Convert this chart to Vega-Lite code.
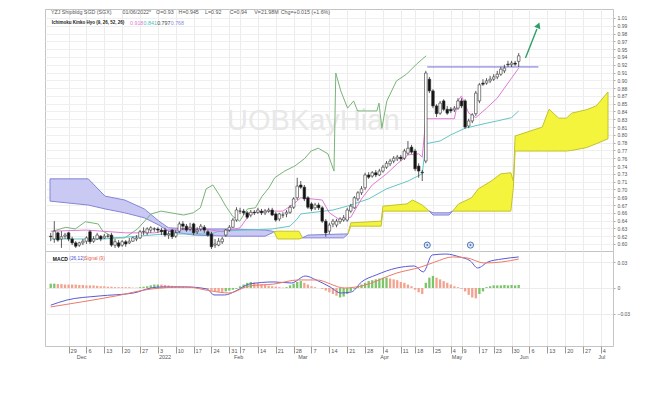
{
"$schema":"https://vega.github.io/schema/vega-lite/v6.json",
"padding":{"left":44,"top":8,"right":0,"bottom":0},
"background":"white",
"bounds":"flush",
"spacing":0,
"resolve":{"scale":{"color":"independent","fill":"independent","stroke":"independent"}},
"config":{"view":{"stroke":"#c4c4c4","strokeWidth":1},"font":"Liberation Sans","axis":{"labelFont":"Liberation Sans"},"text":{"font":"Liberation Sans"}},
"datasets":{
"candles":[
{"d":0,"o":0.616,"h":0.622,"l":0.607,"c":0.615},{"d":1,"o":0.611,"h":0.643,"l":0.604,"c":0.625},{"d":2,"o":0.622,"h":0.624,"l":0.606,"c":0.609},{"d":3,"o":0.611,"h":0.625,"l":0.595,"c":0.615},{"d":4,"o":0.616,"h":0.622,"l":0.611,"c":0.618},{"d":5,"o":0.622,"h":0.624,"l":0.607,"c":0.611},{"d":6,"o":0.611,"h":0.615,"l":0.600,"c":0.604},{"d":7,"o":0.604,"h":0.607,"l":0.595,"c":0.598},{"d":8,"o":0.600,"h":0.606,"l":0.597,"c":0.604},{"d":9,"o":0.604,"h":0.611,"l":0.600,"c":0.607},
{"d":10,"o":0.607,"h":0.616,"l":0.602,"c":0.613},{"d":11,"o":0.624,"h":0.627,"l":0.602,"c":0.606},{"d":12,"o":0.607,"h":0.616,"l":0.604,"c":0.611},{"d":13,"o":0.611,"h":0.622,"l":0.609,"c":0.618},{"d":14,"o":0.616,"h":0.618,"l":0.607,"c":0.611},{"d":15,"o":0.613,"h":0.620,"l":0.611,"c":0.616},{"d":16,"o":0.616,"h":0.620,"l":0.613,"c":0.616},{"d":17,"o":0.618,"h":0.622,"l":0.597,"c":0.600},{"d":18,"o":0.600,"h":0.611,"l":0.595,"c":0.606},{"d":19,"o":0.604,"h":0.609,"l":0.595,"c":0.598},
{"d":20,"o":0.600,"h":0.609,"l":0.597,"c":0.606},{"d":21,"o":0.606,"h":0.609,"l":0.597,"c":0.602},{"d":22,"o":0.604,"h":0.613,"l":0.602,"c":0.607},{"d":23,"o":0.607,"h":0.615,"l":0.606,"c":0.613},{"d":24,"o":0.611,"h":0.618,"l":0.607,"c":0.613},{"d":25,"o":0.613,"h":0.627,"l":0.611,"c":0.624},{"d":26,"o":0.624,"h":0.632,"l":0.618,"c":0.625},{"d":27,"o":0.622,"h":0.632,"l":0.618,"c":0.629},{"d":28,"o":0.627,"h":0.634,"l":0.622,"c":0.631},{"d":29,"o":0.629,"h":0.632,"l":0.624,"c":0.629},
{"d":30,"o":0.629,"h":0.632,"l":0.622,"c":0.627},{"d":31,"o":0.627,"h":0.631,"l":0.618,"c":0.624},{"d":32,"o":0.627,"h":0.631,"l":0.615,"c":0.618},{"d":33,"o":0.618,"h":0.625,"l":0.611,"c":0.620},{"d":34,"o":0.627,"h":0.629,"l":0.611,"c":0.615},{"d":35,"o":0.616,"h":0.627,"l":0.613,"c":0.622},{"d":36,"o":0.625,"h":0.642,"l":0.622,"c":0.638},{"d":37,"o":0.638,"h":0.643,"l":0.627,"c":0.634},{"d":38,"o":0.634,"h":0.638,"l":0.624,"c":0.627},{"d":39,"o":0.629,"h":0.640,"l":0.625,"c":0.632},
{"d":40,"o":0.638,"h":0.640,"l":0.618,"c":0.622},{"d":41,"o":0.624,"h":0.632,"l":0.620,"c":0.627},{"d":42,"o":0.629,"h":0.638,"l":0.625,"c":0.634},{"d":43,"o":0.632,"h":0.636,"l":0.622,"c":0.627},{"d":44,"o":0.624,"h":0.627,"l":0.615,"c":0.618},{"d":45,"o":0.620,"h":0.624,"l":0.593,"c":0.597},{"d":46,"o":0.600,"h":0.611,"l":0.595,"c":0.602},{"d":47,"o":0.600,"h":0.613,"l":0.598,"c":0.607},{"d":48,"o":0.606,"h":0.615,"l":0.602,"c":0.611},{"d":49,"o":0.618,"h":0.629,"l":0.615,"c":0.627},
{"d":50,"o":0.627,"h":0.636,"l":0.624,"c":0.632},{"d":51,"o":0.632,"h":0.649,"l":0.631,"c":0.645},{"d":52,"o":0.645,"h":0.668,"l":0.642,"c":0.663},{"d":53,"o":0.661,"h":0.667,"l":0.656,"c":0.661},{"d":54,"o":0.661,"h":0.665,"l":0.654,"c":0.658},{"d":55,"o":0.658,"h":0.661,"l":0.647,"c":0.650},{"d":56,"o":0.654,"h":0.663,"l":0.650,"c":0.659},{"d":57,"o":0.659,"h":0.663,"l":0.654,"c":0.658},{"d":58,"o":0.659,"h":0.667,"l":0.656,"c":0.663},{"d":59,"o":0.661,"h":0.665,"l":0.654,"c":0.658},
{"d":60,"o":0.658,"h":0.665,"l":0.654,"c":0.661},{"d":61,"o":0.661,"h":0.667,"l":0.658,"c":0.663},{"d":62,"o":0.663,"h":0.667,"l":0.652,"c":0.654},{"d":63,"o":0.656,"h":0.659,"l":0.642,"c":0.645},{"d":64,"o":0.647,"h":0.658,"l":0.643,"c":0.656},{"d":65,"o":0.654,"h":0.659,"l":0.649,"c":0.654},{"d":66,"o":0.656,"h":0.663,"l":0.650,"c":0.659},{"d":67,"o":0.659,"h":0.672,"l":0.656,"c":0.668},{"d":68,"o":0.668,"h":0.686,"l":0.665,"c":0.683},{"d":69,"o":0.685,"h":0.721,"l":0.681,"c":0.706},
{"d":70,"o":0.708,"h":0.715,"l":0.701,"c":0.704},{"d":71,"o":0.704,"h":0.708,"l":0.679,"c":0.683},{"d":72,"o":0.685,"h":0.688,"l":0.665,"c":0.668},{"d":73,"o":0.674,"h":0.677,"l":0.661,"c":0.665},{"d":74,"o":0.667,"h":0.676,"l":0.663,"c":0.672},{"d":75,"o":0.672,"h":0.676,"l":0.663,"c":0.667},{"d":76,"o":0.667,"h":0.670,"l":0.640,"c":0.643},{"d":77,"o":0.643,"h":0.647,"l":0.615,"c":0.622},{"d":78,"o":0.625,"h":0.640,"l":0.620,"c":0.636},{"d":79,"o":0.638,"h":0.647,"l":0.632,"c":0.643},
{"d":80,"o":0.636,"h":0.647,"l":0.632,"c":0.643},{"d":81,"o":0.642,"h":0.650,"l":0.638,"c":0.647},{"d":82,"o":0.645,"h":0.654,"l":0.642,"c":0.649},{"d":83,"o":0.645,"h":0.667,"l":0.642,"c":0.663},{"d":84,"o":0.661,"h":0.674,"l":0.658,"c":0.670},{"d":85,"o":0.667,"h":0.688,"l":0.665,"c":0.685},{"d":86,"o":0.683,"h":0.697,"l":0.679,"c":0.694},{"d":87,"o":0.694,"h":0.706,"l":0.690,"c":0.701},{"d":88,"o":0.703,"h":0.730,"l":0.699,"c":0.726},{"d":89,"o":0.726,"h":0.731,"l":0.719,"c":0.722},
{"d":90,"o":0.724,"h":0.733,"l":0.721,"c":0.730},{"d":91,"o":0.730,"h":0.735,"l":0.722,"c":0.726},{"d":92,"o":0.726,"h":0.737,"l":0.724,"c":0.733},{"d":93,"o":0.733,"h":0.744,"l":0.730,"c":0.740},{"d":94,"o":0.740,"h":0.751,"l":0.737,"c":0.747},{"d":95,"o":0.746,"h":0.755,"l":0.742,"c":0.751},{"d":96,"o":0.751,"h":0.760,"l":0.747,"c":0.756},{"d":97,"o":0.755,"h":0.762,"l":0.751,"c":0.758},{"d":98,"o":0.758,"h":0.762,"l":0.751,"c":0.755},{"d":99,"o":0.756,"h":0.773,"l":0.753,"c":0.769},
{"d":100,"o":0.765,"h":0.787,"l":0.762,"c":0.774},{"d":101,"o":0.776,"h":0.780,"l":0.764,"c":0.767},{"d":102,"o":0.769,"h":0.773,"l":0.733,"c":0.737},{"d":103,"o":0.742,"h":0.747,"l":0.721,"c":0.733},{"d":104,"o":0.731,"h":0.735,"l":0.715,"c":0.730},{"d":105,"o":0.751,"h":0.913,"l":0.747,"c":0.909},{"d":106,"o":0.898,"h":0.902,"l":0.873,"c":0.877},{"d":107,"o":0.877,"h":0.880,"l":0.846,"c":0.850},{"d":108,"o":0.850,"h":0.853,"l":0.830,"c":0.836},{"d":109,"o":0.837,"h":0.859,"l":0.834,"c":0.855},
{"d":110,"o":0.859,"h":0.862,"l":0.841,"c":0.844},{"d":111,"o":0.844,"h":0.850,"l":0.834,"c":0.837},{"d":112,"o":0.844,"h":0.848,"l":0.837,"c":0.841},{"d":113,"o":0.843,"h":0.850,"l":0.839,"c":0.846},{"d":114,"o":0.846,"h":0.864,"l":0.843,"c":0.859},{"d":115,"o":0.859,"h":0.864,"l":0.846,"c":0.850},{"d":116,"o":0.859,"h":0.862,"l":0.809,"c":0.812},{"d":117,"o":0.814,"h":0.827,"l":0.810,"c":0.823},{"d":118,"o":0.823,"h":0.837,"l":0.819,"c":0.834},{"d":119,"o":0.836,"h":0.877,"l":0.832,"c":0.873},
{"d":120,"o":0.859,"h":0.891,"l":0.855,"c":0.888},{"d":121,"o":0.891,"h":0.898,"l":0.886,"c":0.889},{"d":122,"o":0.891,"h":0.900,"l":0.888,"c":0.895},{"d":123,"o":0.895,"h":0.904,"l":0.891,"c":0.898},{"d":124,"o":0.898,"h":0.907,"l":0.895,"c":0.902},{"d":125,"o":0.902,"h":0.913,"l":0.898,"c":0.907},{"d":126,"o":0.907,"h":0.920,"l":0.904,"c":0.916},{"d":127,"o":0.913,"h":0.924,"l":0.909,"c":0.918},{"d":128,"o":0.925,"h":0.931,"l":0.920,"c":0.924},{"d":129,"o":0.924,"h":0.931,"l":0.920,"c":0.927},
{"d":130,"o":0.927,"h":0.931,"l":0.922,"c":0.925},{"d":131,"o":0.93,"h":0.945,"l":0.92,"c":0.94}
],
"tenkan":[
{"d":0,"v":0.625},{"d":10,"v":0.627},{"d":21,"v":0.622},{"d":29,"v":0.622},{"d":33,"v":0.627},{"d":43,"v":0.629},{"d":48,"v":0.624},{"d":53,"v":0.631},{"d":56,"v":0.658},{"d":60,"v":0.661},{"d":65,"v":0.661},{"d":68,"v":0.674},{"d":70,"v":0.685},{"d":76,"v":0.681},{"d":78,"v":0.658},{"d":81,"v":0.645},{"d":84,"v":0.650},{"d":87,"v":0.683},{"d":90,"v":0.708},{"d":94,"v":0.728},{"d":97,"v":0.746},{"d":100,"v":0.762},{"d":103,"v":0.764},{"d":104,"v":0.758},{"d":105,"v":0.827},{"d":113,"v":0.827},{"d":114,"v":0.859},{"d":115,"v":0.868},{"d":117,"v":0.837},{"d":119,"v":0.829},{"d":122,"v":0.846},{"d":125,"v":0.864},{"d":127,"v":0.882},{"d":129,"v":0.900},{"d":131,"v":0.918}
],
"kijun":[
{"d":0,"v":0.611},{"d":15,"v":0.611},{"d":32,"v":0.620},{"d":45,"v":0.620},{"d":47,"v":0.625},{"d":62,"v":0.629},{"d":67,"v":0.634},{"d":69,"v":0.647},{"d":70,"v":0.656},{"d":79,"v":0.663},{"d":83,"v":0.670},{"d":89,"v":0.683},{"d":94,"v":0.701},{"d":100,"v":0.715},{"d":104,"v":0.728},{"d":105,"v":0.782},{"d":109,"v":0.787},{"d":112,"v":0.798},{"d":116,"v":0.810},{"d":122,"v":0.819},{"d":125,"v":0.823},{"d":129,"v":0.829},{"d":131,"v":0.841}
],
"chikou":[
{"d":0.6,"v":0.625},{"d":4.2,"v":0.632},{"d":6.9,"v":0.629},{"d":9.7,"v":0.642},{"d":13.3,"v":0.638},{"d":14.6,"v":0.625},{"d":17.9,"v":0.613},{"d":20.7,"v":0.613},{"d":24.3,"v":0.629},{"d":28.1,"v":0.656},{"d":30.9,"v":0.661},{"d":33.6,"v":0.658},{"d":37.2,"v":0.654},{"d":39.9,"v":0.658},{"d":41.9,"v":0.667},{"d":43.5,"v":0.701},{"d":45.4,"v":0.708},{"d":47.4,"v":0.688},{"d":49.0,"v":0.670},{"d":50.9,"v":0.652},{"d":52.9,"v":0.643},{"d":55.1,"v":0.665},{"d":57.3,"v":0.667},{"d":59.2,"v":0.688},{"d":61.1,"v":0.703},{"d":62.7,"v":0.721},{"d":65.5,"v":0.733},{"d":68.3,"v":0.742},{"d":71.0,"v":0.755},{"d":72.9,"v":0.769},{"d":74.9,"v":0.774},{"d":77.6,"v":0.764},{"d":79.3,"v":0.733},{"d":79.8,"v":0.909},{"d":81.2,"v":0.877},{"d":83.1,"v":0.846},{"d":84.8,"v":0.859},{"d":85.9,"v":0.841},{"d":88.6,"v":0.841},{"d":91.3,"v":0.841},{"d":91.9,"v":0.855},{"d":92.7,"v":0.810},{"d":94.1,"v":0.859},{"d":96.8,"v":0.895},{"d":99.6,"v":0.907},{"d":102.4,"v":0.925},{"d":105.1,"v":0.940}
],
"cloud":[
{"seg":1,"kind":"bear","d":-0.2,"a":0.679,"b":0.719},{"seg":1,"kind":"bear","d":10.5,"a":0.672,"b":0.719},{"seg":1,"kind":"bear","d":15.2,"a":0.665,"b":0.688},{"seg":1,"kind":"bear","d":20.7,"a":0.658,"b":0.681},{"seg":1,"kind":"bear","d":26.2,"a":0.649,"b":0.665},{"seg":1,"kind":"bear","d":30.3,"a":0.636,"b":0.643},{"seg":1,"kind":"bear","d":33,"a":0.625,"b":0.631},{"seg":1,"kind":"bear","d":40,"a":0.618,"b":0.629},{"seg":1,"kind":"bear","d":50,"a":0.616,"b":0.629},{"seg":1,"kind":"bear","d":60,"a":0.616,"b":0.627},{"seg":1,"kind":"bear","d":62,"a":0.622,"b":0.625},{"seg":1,"kind":"bear","d":62.5,"a":0.624,"b":0.624},
{"seg":2,"kind":"bull","d":62.5,"a":0.624,"b":0.624},{"seg":2,"kind":"bull","d":63.5,"a":0.625,"b":0.611},{"seg":2,"kind":"bull","d":69.5,"a":0.625,"b":0.611},{"seg":2,"kind":"bull","d":70.5,"a":0.613,"b":0.613},
{"seg":3,"kind":"bear","d":70.5,"a":0.613,"b":0.613},{"seg":3,"kind":"bear","d":72,"a":0.613,"b":0.618},{"seg":3,"kind":"bear","d":82,"a":0.613,"b":0.620},{"seg":3,"kind":"bear","d":83.2,"a":0.620,"b":0.620},
{"seg":4,"kind":"bull","d":83.2,"a":0.620,"b":0.620},{"seg":4,"kind":"bull","d":84,"a":0.640,"b":0.634},{"seg":4,"kind":"bull","d":92.5,"a":0.643,"b":0.634},{"seg":4,"kind":"bull","d":93,"a":0.670,"b":0.661},{"seg":4,"kind":"bull","d":99.7,"a":0.674,"b":0.661},{"seg":4,"kind":"bull","d":101.3,"a":0.681,"b":0.661},{"seg":4,"kind":"bull","d":104,"a":0.672,"b":0.661},{"seg":4,"kind":"bull","d":106,"a":0.661,"b":0.661},
{"seg":5,"kind":"bear","d":106,"a":0.661,"b":0.661},{"seg":5,"kind":"bear","d":107,"a":0.654,"b":0.658},{"seg":5,"kind":"bear","d":111.5,"a":0.654,"b":0.658},{"seg":5,"kind":"bear","d":112.5,"a":0.661,"b":0.661},
{"seg":6,"kind":"bull","d":112.5,"a":0.661,"b":0.661},{"seg":6,"kind":"bull","d":114.2,"a":0.674,"b":0.661},{"seg":6,"kind":"bull","d":117.8,"a":0.685,"b":0.661},{"seg":6,"kind":"bull","d":119.7,"a":0.701,"b":0.661},{"seg":6,"kind":"bull","d":123.3,"a":0.715,"b":0.661},{"seg":6,"kind":"bull","d":126,"a":0.728,"b":0.661},{"seg":6,"kind":"bull","d":128.8,"a":0.730,"b":0.661},{"seg":6,"kind":"bull","d":129.5,"a":0.715,"b":0.703},{"seg":6,"kind":"bull","d":130,"a":0.796,"b":0.769},{"seg":6,"kind":"bull","d":137.6,"a":0.812,"b":0.769},{"seg":6,"kind":"bull","d":139.5,"a":0.844,"b":0.769},{"seg":6,"kind":"bull","d":142.2,"a":0.828,"b":0.769},{"seg":6,"kind":"bull","d":144.4,"a":0.828,"b":0.769},{"seg":6,"kind":"bull","d":145.8,"a":0.837,"b":0.770},{"seg":6,"kind":"bull","d":149.9,"a":0.843,"b":0.775},{"seg":6,"kind":"bull","d":152.7,"a":0.850,"b":0.782},{"seg":6,"kind":"bull","d":156,"a":0.875,"b":0.791}
],
"macd":[
{"d":0,"v":-0.020},{"d":4.5,"v":-0.014},{"d":13.5,"v":-0.0093},{"d":23.2,"v":-0.0058},{"d":28.1,"v":0.0},{"d":31.1,"v":0.0012},{"d":38,"v":0.0012},{"d":43.8,"v":-0.0012},{"d":45.7,"v":-0.0081},{"d":48.7,"v":-0.0081},{"d":51.8,"v":-0.0035},{"d":55.6,"v":0.0046},{"d":62.5,"v":0.007},{"d":67.4,"v":0.0058},{"d":71.3,"v":0.0139},{"d":74.3,"v":0.0093},{"d":78.2,"v":0.0012},{"d":81.2,"v":-0.0058},{"d":84.2,"v":-0.0046},{"d":87,"v":0.007},{"d":91.1,"v":0.0151},{"d":96.9,"v":0.0232},{"d":101.8,"v":0.0255},{"d":104.3,"v":0.0186},{"d":106.8,"v":0.0383},{"d":110.6,"v":0.0394},{"d":114.5,"v":0.036},{"d":117.5,"v":0.0313},{"d":119.5,"v":0.0232},{"d":122.4,"v":0.0302},{"d":126.3,"v":0.0336},{"d":131,"v":0.036}
],
"signal":[
{"d":0,"v":-0.022},{"d":8.6,"v":-0.0162},{"d":18.2,"v":-0.0093},{"d":28.1,"v":-0.0012},{"d":38,"v":0.0012},{"d":44.9,"v":-0.0035},{"d":49.8,"v":-0.0058},{"d":55.6,"v":0.0023},{"d":62.5,"v":0.0046},{"d":69.3,"v":0.0093},{"d":74.3,"v":0.0093},{"d":82.3,"v":0.0},{"d":87,"v":0.0023},{"d":96.9,"v":0.0174},{"d":103.7,"v":0.0244},{"d":107.6,"v":0.0302},{"d":112.5,"v":0.036},{"d":116.6,"v":0.0348},{"d":121.3,"v":0.029},{"d":126.3,"v":0.0302},{"d":131,"v":0.0336}
],
"hist":[
{"d":0,"v":0.005,"dir":"up"},{"d":1,"v":0.005,"dir":"up"},{"d":2,"v":0.0045,"dir":"dn"},{"d":3,"v":0.0045,"dir":"dn"},{"d":4,"v":0.004,"dir":"dn"},{"d":5,"v":0.004,"dir":"dn"},{"d":6,"v":0.004,"dir":"dn"},{"d":7,"v":0.004,"dir":"dn"},{"d":8,"v":0.0035,"dir":"dn"},{"d":9,"v":0.0035,"dir":"dn"},
{"d":10,"v":0.003,"dir":"dn"},{"d":11,"v":0.003,"dir":"dn"},{"d":12,"v":0.003,"dir":"dn"},{"d":13,"v":0.0025,"dir":"dn"},{"d":14,"v":0.002,"dir":"dn"},{"d":15,"v":0.002,"dir":"dn"},{"d":16,"v":0.0015,"dir":"dn"},{"d":17,"v":0.0015,"dir":"dn"},{"d":18,"v":0.001,"dir":"dn"},{"d":19,"v":0.001,"dir":"dn"},
{"d":20,"v":0.001,"dir":"dn"},{"d":21,"v":0.001,"dir":"dn"},{"d":22,"v":0.001,"dir":"dn"},{"d":23,"v":0.0005,"dir":"dn"},{"d":24,"v":0.0005,"dir":"dn"},{"d":25,"v":0.001,"dir":"up"},{"d":26,"v":0.0015,"dir":"up"},{"d":27,"v":0.002,"dir":"up"},{"d":28,"v":0.003,"dir":"up"},{"d":29,"v":0.004,"dir":"up"},
{"d":30,"v":0.004,"dir":"up"},{"d":31,"v":0.004,"dir":"dn"},{"d":32,"v":0.0035,"dir":"dn"},{"d":33,"v":0.003,"dir":"dn"},{"d":34,"v":0.0025,"dir":"dn"},{"d":35,"v":0.002,"dir":"dn"},{"d":36,"v":0.002,"dir":"dn"},{"d":37,"v":0.0015,"dir":"dn"},{"d":38,"v":0.001,"dir":"dn"},{"d":39,"v":0.001,"dir":"dn"},
{"d":40,"v":0.0005,"dir":"dn"},{"d":41,"v":0.0005,"dir":"dn"},{"d":42,"v":0.0,"dir":"dn"},{"d":43,"v":-0.0005,"dir":"dn"},{"d":44,"v":-0.001,"dir":"dn"},{"d":45,"v":-0.003,"dir":"dn"},{"d":46,"v":-0.004,"dir":"dn"},{"d":47,"v":-0.0045,"dir":"dn"},{"d":48,"v":-0.0045,"dir":"dn"},{"d":49,"v":-0.004,"dir":"up"},
{"d":50,"v":-0.003,"dir":"up"},{"d":51,"v":-0.002,"dir":"up"},{"d":52,"v":-0.001,"dir":"up"},{"d":53,"v":0.002,"dir":"up"},{"d":54,"v":0.004,"dir":"up"},{"d":55,"v":0.006,"dir":"up"},{"d":56,"v":0.007,"dir":"up"},{"d":57,"v":0.0065,"dir":"dn"},{"d":58,"v":0.0055,"dir":"dn"},{"d":59,"v":0.0045,"dir":"dn"},
{"d":60,"v":0.0035,"dir":"dn"},{"d":61,"v":0.0025,"dir":"dn"},{"d":62,"v":0.002,"dir":"dn"},{"d":63,"v":0.0015,"dir":"dn"},{"d":64,"v":0.001,"dir":"dn"},{"d":65,"v":0.0005,"dir":"dn"},{"d":66,"v":0.001,"dir":"up"},{"d":67,"v":0.003,"dir":"up"},{"d":68,"v":0.005,"dir":"up"},{"d":69,"v":0.007,"dir":"up"},
{"d":70,"v":0.008,"dir":"up"},{"d":71,"v":0.006,"dir":"dn"},{"d":72,"v":0.004,"dir":"dn"},{"d":73,"v":0.002,"dir":"dn"},{"d":74,"v":0.001,"dir":"dn"},{"d":75,"v":0.0,"dir":"dn"},{"d":76,"v":-0.001,"dir":"dn"},{"d":77,"v":-0.003,"dir":"dn"},{"d":78,"v":-0.005,"dir":"dn"},{"d":79,"v":-0.007,"dir":"dn"},
{"d":80,"v":-0.009,"dir":"dn"},{"d":81,"v":-0.011,"dir":"up"},{"d":82,"v":-0.010,"dir":"up"},{"d":83,"v":-0.007,"dir":"up"},{"d":84,"v":-0.004,"dir":"up"},{"d":85,"v":-0.001,"dir":"up"},{"d":86,"v":0.002,"dir":"up"},{"d":87,"v":0.004,"dir":"up"},{"d":88,"v":0.006,"dir":"up"},{"d":89,"v":0.008,"dir":"up"},
{"d":90,"v":0.009,"dir":"up"},{"d":91,"v":0.010,"dir":"up"},{"d":92,"v":0.011,"dir":"up"},{"d":93,"v":0.012,"dir":"up"},{"d":94,"v":0.012,"dir":"up"},{"d":95,"v":0.011,"dir":"dn"},{"d":96,"v":0.010,"dir":"dn"},{"d":97,"v":0.009,"dir":"dn"},{"d":98,"v":0.007,"dir":"dn"},{"d":99,"v":0.006,"dir":"dn"},
{"d":100,"v":0.004,"dir":"dn"},{"d":101,"v":0.002,"dir":"dn"},{"d":102,"v":-0.002,"dir":"dn"},{"d":103,"v":-0.005,"dir":"dn"},{"d":104,"v":-0.007,"dir":"dn"},{"d":105,"v":0.006,"dir":"up"},{"d":106,"v":0.012,"dir":"up"},{"d":107,"v":0.014,"dir":"up"},{"d":108,"v":0.012,"dir":"dn"},{"d":109,"v":0.010,"dir":"dn"},
{"d":110,"v":0.008,"dir":"dn"},{"d":111,"v":0.006,"dir":"dn"},{"d":112,"v":0.004,"dir":"dn"},{"d":113,"v":0.002,"dir":"dn"},{"d":114,"v":0.001,"dir":"dn"},{"d":115,"v":-0.001,"dir":"dn"},{"d":116,"v":-0.004,"dir":"dn"},{"d":117,"v":-0.008,"dir":"dn"},{"d":118,"v":-0.011,"dir":"dn"},{"d":119,"v":-0.012,"dir":"dn"},
{"d":120,"v":-0.007,"dir":"up"},{"d":121,"v":-0.004,"dir":"up"},{"d":122,"v":0.001,"dir":"up"},{"d":123,"v":0.002,"dir":"up"},{"d":124,"v":0.003,"dir":"up"},{"d":125,"v":0.003,"dir":"up"},{"d":126,"v":0.003,"dir":"up"},{"d":127,"v":0.0035,"dir":"up"},{"d":128,"v":0.003,"dir":"up"},{"d":129,"v":0.0035,"dir":"up"},
{"d":130,"v":0.003,"dir":"up"},{"d":131,"v":0.0035,"dir":"up"}
],
"hdr":[
{"d":0.05,"p":1.0187,"t":"YZJ Shipbldg SGD (SGX)"},{"d":20.1,"p":1.0187,"t":"01/06/2022*"},{"d":29.5,"p":1.0187,"t":"O=0.93"},{"d":35.8,"p":1.0187,"t":"H=0.945"},{"d":43.2,"p":1.0187,"t":"L=0.92"},{"d":50.1,"p":1.0187,"t":"C=0.94"},{"d":57.0,"p":1.0187,"t":"V=21.98M"},{"d":64.4,"p":1.0187,"t":"Chg=+0.015 (+1.6%)"}
],
"months":[
{"d":7,"t":"Dec"},{"d":30,"t":"2022"},{"d":51,"t":"Feb"},{"d":69,"t":"Mar"},{"d":92,"t":"Apr"},{"d":112,"t":"May"},{"d":131,"t":"Jun"},{"d":153,"t":"Jul"}
]
},
"vconcat":[
{
"width":568,"height":242,
"layer":[
{"data":{"values":[{"d":73.5,"p":0.823,"t":"UOBKayHian"}]},
 "mark":{"type":"text","fontSize":29,"color":"#e8e8e8","align":"center","baseline":"middle"},
 "encoding":{
  "x":{"field":"d","type":"quantitative","title":null,"scale":{"domain":[-0.2,156],"nice":false,"zero":false},
   "axis":{"values":[5,10,15,20,25,30,35,40,45,50,53,58,63,68,73,78,83,88,93,98,102,107,112,115,120,124,129,134,139,144,149,154],"tickCount":60,"grid":true,"gridColor":"#ececec","labels":false,"ticks":false,"domain":false}},
  "y":{"field":"p","type":"quantitative","title":null,"scale":{"domain":[0.5894,1.0241],"nice":false,"zero":false},
   "axis":{"orient":"right","values":[1.008,0.994,0.98,0.966,0.952,0.938,0.924,0.91,0.896,0.882,0.868,0.854,0.84,0.826,0.812,0.798,0.784,0.77,0.756,0.742,0.728,0.714,0.7,0.686,0.672,0.658,0.644,0.63,0.616,0.602],"tickCount":60,"format":".2f","grid":true,"gridColor":"#efefef","labelFontSize":5,"labelColor":"#555555","tickSize":2,"tickColor":"#aaaaaa","domain":false,"labelPadding":2,"labelOverlap":false}},
  "text":{"field":"t"}}},
{"data":{"name":"cloud"},
 "mark":{"type":"area","clip":true,"strokeWidth":1,"opacity":1},
 "encoding":{
  "x":{"field":"d","type":"quantitative","title":null},
  "y":{"field":"a","type":"quantitative","title":null},
  "y2":{"field":"b"},
  "fill":{"condition":{"test":"datum.kind == 'bull'","value":"#f4f43c"},"value":"#c9c9f3"},
  "stroke":{"condition":{"test":"datum.kind == 'bull'","value":"#c2c232"},"value":"#8585d6"},
  "detail":{"field":"seg","type":"nominal"}}},
{"data":{"name":"chikou"},"mark":{"type":"line","color":"#78b478","strokeWidth":1,"clip":true},
 "encoding":{"x":{"field":"d","type":"quantitative","title":null},"y":{"field":"v","type":"quantitative","title":null}}},
{"data":{"name":"kijun"},"mark":{"type":"line","color":"#62c6c6","strokeWidth":1,"clip":true},
 "encoding":{"x":{"field":"d","type":"quantitative","title":null},"y":{"field":"v","type":"quantitative","title":null}}},
{"data":{"name":"tenkan"},"mark":{"type":"line","color":"#e07bd5","strokeWidth":1,"clip":true},
 "encoding":{"x":{"field":"d","type":"quantitative","title":null},"y":{"field":"v","type":"quantitative","title":null}}},
{"data":{"values":[{"d":105.4,"d2":136.5,"p":0.92}]},"mark":{"type":"rule","color":"#6e6ed8","strokeWidth":1},
 "encoding":{"x":{"field":"d","type":"quantitative","title":null},"x2":{"field":"d2"},"y":{"field":"p","type":"quantitative","title":null}}},
{"data":{"name":"candles"},"mark":{"type":"rule","color":"#333333","strokeWidth":0.8,"clip":true},
 "encoding":{"x":{"field":"d","type":"quantitative","title":null},"y":{"field":"l","type":"quantitative","title":null},"y2":{"field":"h"}}},
{"data":{"name":"candles"},"mark":{"type":"bar","size":2.6,"stroke":"#333333","strokeWidth":0.6,"clip":true},
 "encoding":{"x":{"field":"d","type":"quantitative","title":null},"y":{"field":"o","type":"quantitative","title":null},"y2":{"field":"c"},
  "fill":{"condition":{"test":"datum.c >= datum.o","value":"#ffffff"},"value":"#111111"}}},
{"data":{"values":[{"d":105.4,"p":0.6},{"d":117.5,"p":0.6}]},"mark":{"type":"point","shape":"circle","size":38,"filled":true,"fill":"#dfe8f6","stroke":"#4f77b8","strokeWidth":1,"opacity":1},
 "encoding":{"x":{"field":"d","type":"quantitative","title":null},"y":{"field":"p","type":"quantitative","title":null}}},
{"data":{"values":[{"d":105.4,"p":0.6},{"d":117.5,"p":0.6}]},"mark":{"type":"point","shape":"circle","size":4,"filled":true,"color":"#4f77b8","opacity":1},
 "encoding":{"x":{"field":"d","type":"quantitative","title":null},"y":{"field":"p","type":"quantitative","title":null}}},
{"data":{"values":[{"d":132.9,"p":0.936},{"d":136.1,"p":0.988}]},"mark":{"type":"line","color":"#2f9e68","strokeWidth":1.4},
 "encoding":{"x":{"field":"d","type":"quantitative","title":null},"y":{"field":"p","type":"quantitative","title":null}}},
{"data":{"values":[{"d":136.5,"p":0.995}]},"mark":{"type":"point","shape":"triangle-up","size":45,"filled":true,"color":"#2f9e68","angle":22,"opacity":1},
 "encoding":{"x":{"field":"d","type":"quantitative","title":null},"y":{"field":"p","type":"quantitative","title":null}}},
{"data":{"name":"hdr"},"mark":{"type":"text","fontSize":5.3,"align":"left","baseline":"middle","color":"#555555"},
 "encoding":{"x":{"field":"d","type":"quantitative","title":null},"y":{"field":"p","type":"quantitative","title":null},"text":{"field":"t"}}},
{"data":{"values":[{"d":0.3,"p":0.999,"t":"Ichimoku Kinko Hyo (9, 26, 52, 26)"}]},"mark":{"type":"text","fontSize":4.5,"fontWeight":"bold","color":"#222222","align":"left","baseline":"middle"},
 "encoding":{"x":{"field":"d","type":"quantitative","title":null},"y":{"field":"p","type":"quantitative","title":null},"text":{"field":"t"}}},
{"data":{"values":[{"d":22.2,"p":0.999,"t":"0.918"}]},"mark":{"type":"text","fontSize":5.3,"color":"#e07bd5","align":"left","baseline":"middle"},
 "encoding":{"x":{"field":"d","type":"quantitative","title":null},"y":{"field":"p","type":"quantitative","title":null},"text":{"field":"t"}}},
{"data":{"values":[{"d":26.0,"p":0.999,"t":"0.841"}]},"mark":{"type":"text","fontSize":5.3,"color":"#4fbcbc","align":"left","baseline":"middle"},
 "encoding":{"x":{"field":"d","type":"quantitative","title":null},"y":{"field":"p","type":"quantitative","title":null},"text":{"field":"t"}}},
{"data":{"values":[{"d":29.8,"p":0.999,"t":"0.797"}]},"mark":{"type":"text","fontSize":5.3,"color":"#444444","align":"left","baseline":"middle"},
 "encoding":{"x":{"field":"d","type":"quantitative","title":null},"y":{"field":"p","type":"quantitative","title":null},"text":{"field":"t"}}},
{"data":{"values":[{"d":33.6,"p":0.999,"t":"0.768"}]},"mark":{"type":"text","fontSize":5.3,"color":"#8c8cdc","align":"left","baseline":"middle"},
 "encoding":{"x":{"field":"d","type":"quantitative","title":null},"y":{"field":"p","type":"quantitative","title":null},"text":{"field":"t"}}}
]
},
{
"width":568,"height":95,
"layer":[
{"data":{"name":"hist"},"mark":{"type":"bar","size":2.3,"clip":true},
 "encoding":{
  "x":{"field":"d","type":"quantitative","title":null,"scale":{"domain":[-0.2,156],"nice":false,"zero":false},
   "axis":{"values":[5,10,15,20,25,30,35,40,45,50,53,58,63,68,73,78,83,88,93,98,102,107,112,115,120,124,129,134,139,144,149,154],"tickCount":60,
    "labelExpr":"['29','6','13','20','27','3','10','17','24','31','7','14','21','28','7','14','21','28','4','11','18','25','4','9','17','23','30','6','13','20','27','4'][indexof([5,10,15,20,25,30,35,40,45,50,53,58,63,68,73,78,83,88,93,98,102,107,112,115,120,124,129,134,139,144,149,154], datum.value)]",
    "tickSize":7,"tickColor":"#999999","domain":false,"grid":true,"gridColor":"#ececec","labelPadding":-5,"labelAlign":"left","labelBaseline":"top","labelFontSize":5.5,"labelColor":"#555555","labelOverlap":false,"labelFlush":false,"labelOffset":1.5}},
  "y":{"field":"v","type":"quantitative","title":null,"scale":{"domain":[-0.0673,0.0429],"nice":false,"zero":false},
   "axis":{"orient":"right","values":[0.03,0,-0.03],"labelExpr":"datum.value == 0 ? '0' : format(datum.value, '.2f')","grid":true,"gridColor":"#ececec","labelFontSize":5,"labelColor":"#555555","tickSize":2,"tickColor":"#aaaaaa","domain":false,"labelPadding":2}},
  "y2":{"datum":0},
  "fill":{"condition":{"test":"datum.dir == 'up'","value":"#7cc46a"},"value":"#f2a38f"}}},
{"data":{"name":"macd"},"mark":{"type":"line","color":"#5a5ad8","strokeWidth":1,"interpolate":"monotone","clip":true},
 "encoding":{"x":{"field":"d","type":"quantitative","title":null},"y":{"field":"v","type":"quantitative","title":null}}},
{"data":{"name":"signal"},"mark":{"type":"line","color":"#ee7a68","strokeWidth":1,"interpolate":"monotone","clip":true},
 "encoding":{"x":{"field":"d","type":"quantitative","title":null},"y":{"field":"v","type":"quantitative","title":null}}},
{"data":{"name":"months"},"mark":{"type":"text","fontSize":5.5,"color":"#555555","align":"left","baseline":"top","dx":1},
 "encoding":{"x":{"field":"d","type":"quantitative","title":null},"y":{"datum":-0.0783,"type":"quantitative"},"text":{"field":"t"}}},
{"data":{"values":[{"d":0.6,"v":0.0336,"t":"MACD"}]},"mark":{"type":"text","fontSize":5,"fontWeight":"bold","color":"#111111","align":"left","baseline":"middle"},
 "encoding":{"x":{"field":"d","type":"quantitative","title":null},"y":{"field":"v","type":"quantitative","title":null},"text":{"field":"t"}}},
{"data":{"values":[{"d":5.2,"v":0.0336,"t":"(26,12)"}]},"mark":{"type":"text","fontSize":4.8,"color":"#4a4ad8","align":"left","baseline":"middle"},
 "encoding":{"x":{"field":"d","type":"quantitative","title":null},"y":{"field":"v","type":"quantitative","title":null},"text":{"field":"t"}}},
{"data":{"values":[{"d":9.4,"v":0.0336,"t":"Signal (9)"}]},"mark":{"type":"text","fontSize":4.8,"color":"#e8604c","align":"left","baseline":"middle"},
 "encoding":{"x":{"field":"d","type":"quantitative","title":null},"y":{"field":"v","type":"quantitative","title":null},"text":{"field":"t"}}}
]
}
]
}
